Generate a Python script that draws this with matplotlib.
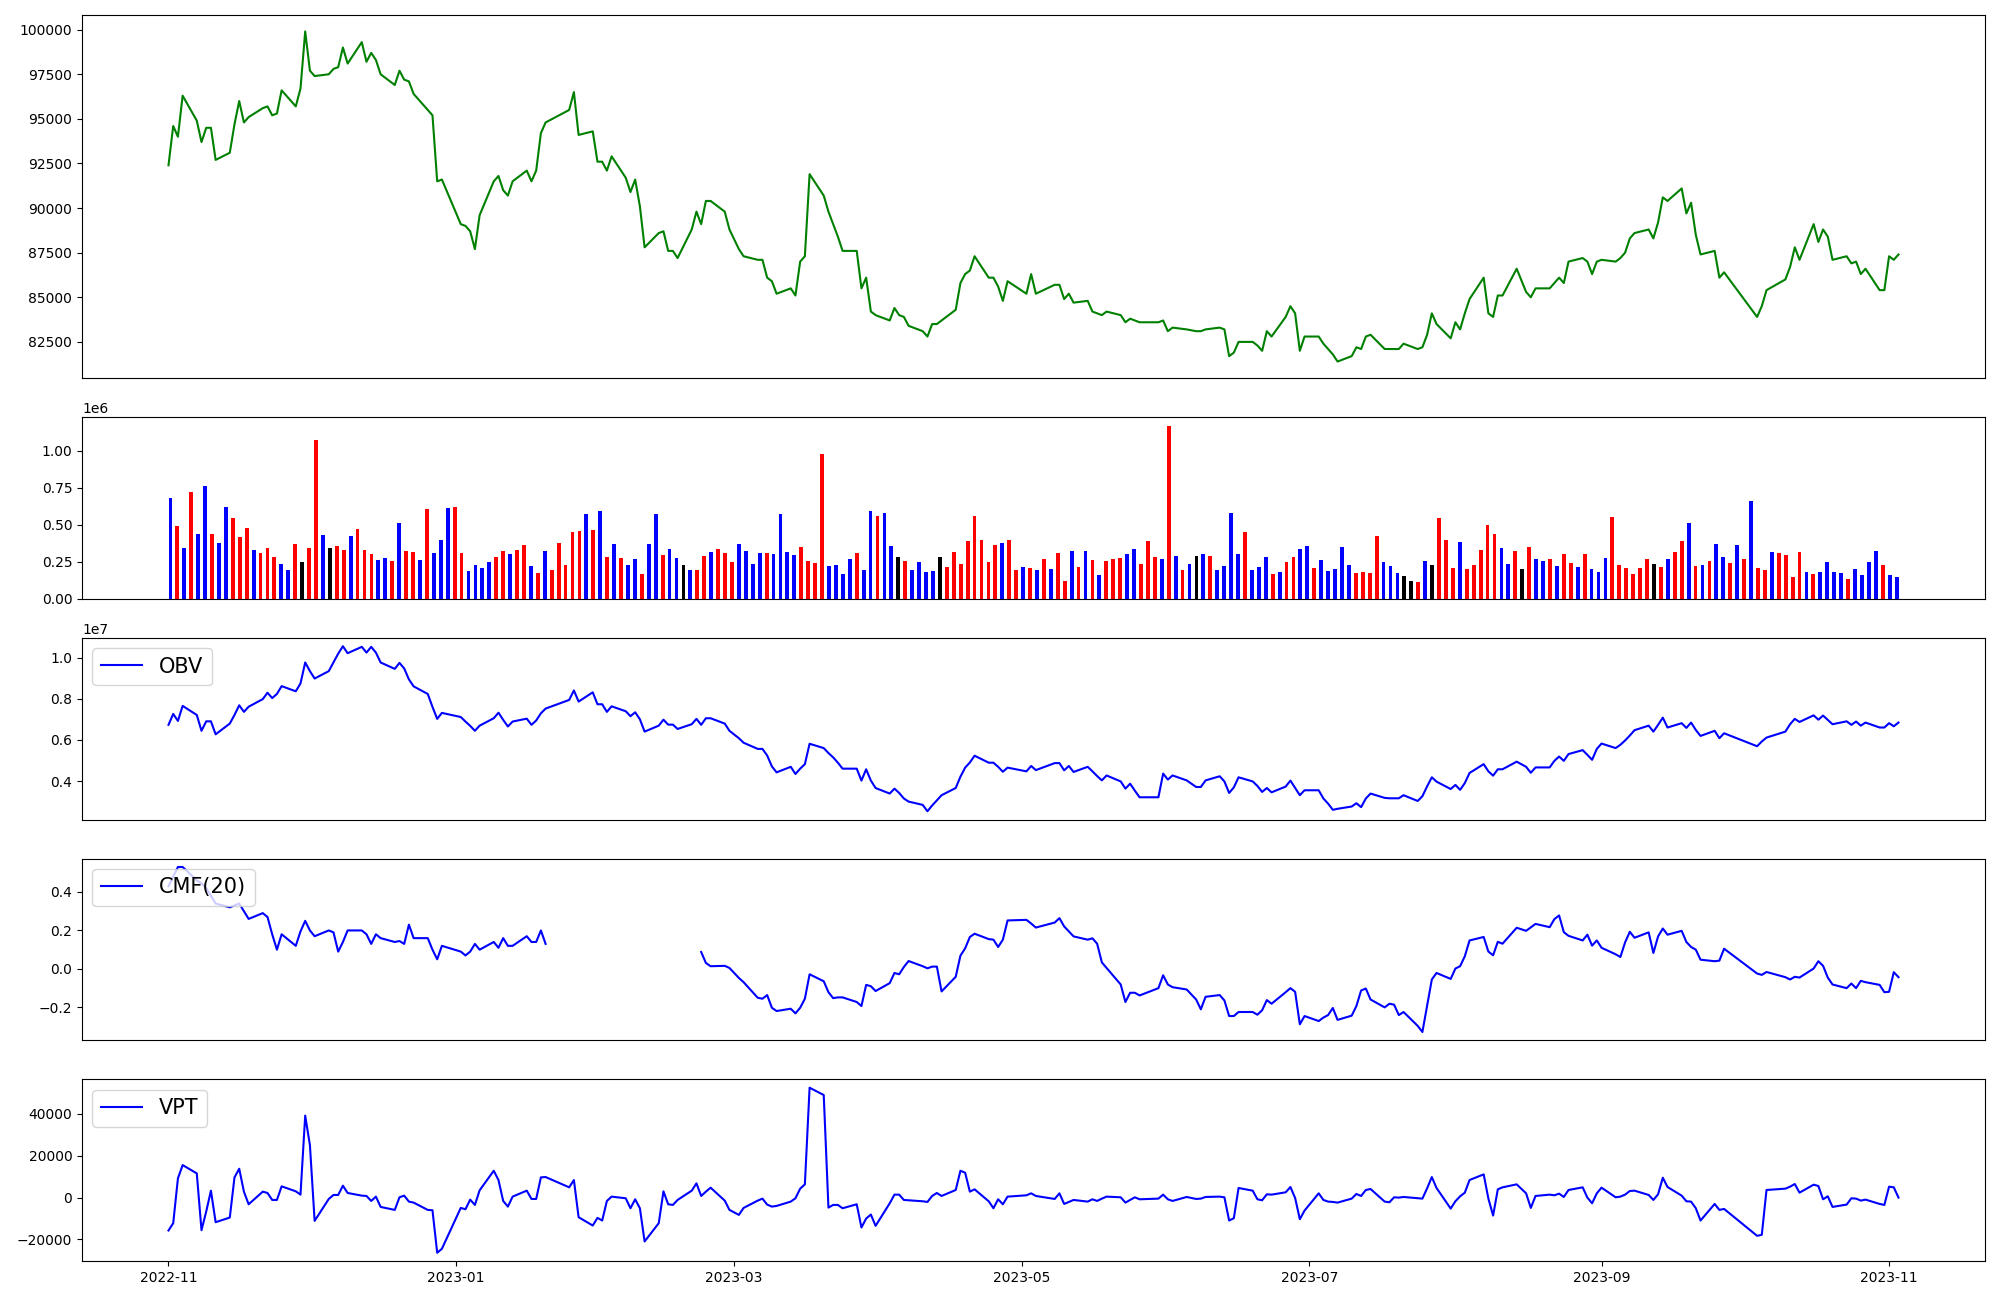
import matplotlib
matplotlib.use("Agg")
import matplotlib.pyplot as plt
import numpy as np
import pandas as pd

# ------------------------------------------------------------------ #
# KRX trading days 2022-11-01 .. 2023-11-03
# ------------------------------------------------------------------ #
HOLIDAYS = ["2022-12-30", "2023-01-23", "2023-01-24", "2023-03-01",
            "2023-05-01", "2023-05-05", "2023-05-29", "2023-06-06",
            "2023-08-15", "2023-09-28", "2023-09-29", "2023-10-02",
            "2023-10-03", "2023-10-09"]

close = [
    # 2022-11
    92400, 94600, 94000, 96300, 94900, 93700, 94500, 94500, 92700, 93100, 94700,
    96000, 94800, 95100, 95600, 95700, 95200, 95300, 96600, 95700, 96700, 99900,
    # 2022-12
    97700, 97400, 97500, 97800, 97900, 99000, 98100, 99300, 98200, 98700, 98300,
    97500, 96900, 97700, 97200, 97100, 96400, 95500, 95200, 91500, 91600,
    # 2023-01
    89100, 89000, 88700, 87700, 89600, 91500, 91800, 91000, 90700, 91500,
    92100, 91500, 92100, 94200, 94800, 95500, 96500, 94100, 94300, 92600,
    # 2023-02
    92600, 92100, 92900, 91700, 90900, 91600, 90100, 87800, 88600, 88700,
    87600, 87600, 87200, 88800, 89800, 89100, 90400, 90400, 89800, 88800,
    # 2023-03
    87700, 87300, 87100, 87100, 86100, 85900, 85200, 85500, 85100, 87000, 87300,
    91900, 90700, 89800, 89100, 88400, 87600, 87600, 85500, 86100, 84200, 84000,
    # 2023-04
    83700, 84400, 84000, 83900, 83400, 83100, 82800, 83500, 83500, 83700,
    84300, 85800, 86300, 86500, 87300, 86100, 86100, 85600, 84800, 85900,
    # 2023-05
    85200, 86300, 85200, 85700, 85700, 84900, 85200, 84700, 84800, 84200,
    84100, 84000, 84200, 84000, 83600, 83800, 83700, 83600, 83600, 83700,
    # 2023-06
    83100, 83300, 83200, 83100, 83100, 83200, 83300, 83200, 81700, 81900, 82500,
    82500, 82300, 82000, 83100, 82800, 83900, 84500, 84100, 82000, 82800,
    # 2023-07
    82800, 82400, 82100, 81800, 81400, 81700, 82200, 82100, 82800, 82900, 82100,
    82100, 82100, 82100, 82400, 82100, 82200, 82900, 84100, 83500, 82700,
    # 2023-08
    83600, 83200, 84100, 84900, 86100, 84100, 83900, 85100, 85100, 86600, 85300,
    85000, 85500, 85500, 85800, 86100, 85800, 87000, 87200, 87000, 86300, 87000,
    # 2023-09
    87100, 87000, 87200, 87500, 88300, 88600, 88800, 88300, 89200, 90600,
    90400, 91100, 89700, 90300, 88500, 87400, 87600, 86100, 86400,
    # 2023-10
    83900, 84500, 85400, 86000, 86700, 87800, 87100, 89100, 88100, 88800,
    88400, 87100, 87300, 86900, 87000, 86300, 86600, 85400, 85400,
    # 2023-11
    87300, 87100, 87400,
]

volume_k = [
    681, 492, 344, 721, 438, 761, 438, 377, 620, 546,
    418, 478, 330, 310, 344, 283, 236, 195, 371, 249,
    344, 1071, 431, 344, 357, 330, 424, 472, 330, 303,
    263, 276, 256, 512, 323, 317, 263, 606, 310, 398,
    613, 620, 310, 189, 229, 209, 249, 283, 323, 303,
    330, 364, 222, 175, 323, 195, 377, 229, 451, 458,
    573, 465, 593, 283, 371, 276, 229, 270, 168, 371,
    573, 296, 337, 276, 229, 195, 195, 290, 317, 337,
    310, 249, 371, 323, 236, 310, 310, 303, 573, 317,
    296, 350, 256, 243, 977, 222, 229, 168, 270, 310,
    195, 593, 559, 579, 357, 283, 256, 195, 249, 182,
    189, 283, 216, 317, 236, 391, 559, 398, 249, 364,
    377, 398, 195, 216, 209, 195, 270, 202, 310, 121,
    323, 216, 323, 263, 162, 256, 270, 276, 303, 337,
    236, 391, 283, 270, 1168, 290, 195, 236, 290, 303,
    290, 195, 222, 579, 303, 451, 195, 216, 283, 168,
    182, 249, 283, 337, 357, 209, 263, 189, 202, 350,
    229, 175, 182, 175, 424, 249, 222, 175, 155, 121,
    115, 256, 229, 546, 398, 209, 384, 202, 229, 330,
    499, 438, 344, 236, 323, 202, 350, 270, 256, 270,
    222, 303, 243, 216, 303, 202, 182, 276, 553, 229,
    209, 168, 209, 270, 236, 216, 270, 317, 391, 512,
    222, 229, 256, 371, 283, 243, 364, 270, 660, 209,
    195, 317, 310, 296, 148, 317, 182, 168, 182, 249,
    182, 175, 135, 202, 162, 249, 323, 229, 162, 148,
]

# b = blue, r = red, k = black (one letter per bar)
bar_codes = ("brbrbbrbbr" "rrbrrrbbrk" "rrbkrrbrrr" "bbrbrrbrbb" "brrbbbbrrb"
             "rrbrbrrrrr" "brbrbrbbrb" "brbbkbrrbr" "rrbbbbrbbb" "brrrrbbbbr"
             "bbrbbkrbbb" "bkrrrrrrrr" "brrbrbrbrr" "brbrbrrrbb" "rrrbrbrbkb"
             "rbbbbrbbbr" "brrbbrbbbb" "brrrrbbbkk" "rbkrrrbrrr" "rrbbrkrbbr"
             "brrbrbbbrr" "rrrrkrbrrb" "rbrbbrbrbr" "rbrrrrbrbb" "bbrbbbbrbb")

obv_m = [
    6.73, 7.26, 6.92, 7.65, 7.21, 6.44, 6.90, 6.90, 6.27, 6.79, 7.21,
    7.68, 7.36, 7.61, 7.98, 8.29, 8.03, 8.23, 8.61, 8.36, 8.74, 9.76,
    9.34, 8.98, 9.34, 9.76, 10.19, 10.55, 10.21, 10.52, 10.24, 10.52, 10.24,
    9.76, 9.45, 9.74, 9.47, 8.94, 8.60, 8.23, 7.60, 7.02, 7.31,
    7.11, 6.89, 6.68, 6.44, 6.69, 7.05, 7.32, 6.97, 6.65, 6.89,
    7.03, 6.73, 6.94, 7.29, 7.52, 7.94, 8.40, 7.86, 8.31, 7.73,
    7.73, 7.36, 7.63, 7.39, 7.15, 7.34, 7.00, 6.40, 6.69, 6.98,
    6.74, 6.74, 6.53, 6.76, 7.02, 6.73, 7.05, 7.05, 6.79, 6.44,
    6.08, 5.86, 5.56, 5.56, 5.24, 4.71, 4.42, 4.69, 4.34, 4.60, 4.82,
    5.81, 5.60, 5.36, 5.15, 4.89, 4.60, 4.60, 4.02, 4.57, 4.02, 3.66,
    3.39, 3.63, 3.42, 3.15, 3.00, 2.84, 2.53, 2.81, 3.06, 3.31,
    3.66, 4.21, 4.65, 4.90, 5.23, 4.89, 4.89, 4.69, 4.45, 4.65,
    4.47, 4.73, 4.53, 4.87, 4.87, 4.52, 4.73, 4.44, 4.69, 4.47,
    4.24, 4.03, 4.27, 3.98, 3.63, 3.87, 3.53, 3.21, 3.21, 4.36,
    4.07, 4.27, 4.03, 3.71, 3.71, 4.03, 4.23, 3.98, 3.42, 3.69, 4.18,
    3.98, 3.76, 3.47, 3.66, 3.45, 3.73, 4.02, 3.66, 3.31, 3.55,
    3.55, 3.15, 2.90, 2.60, 2.65, 2.76, 2.92, 2.73, 3.15, 3.39, 3.18,
    3.16, 3.16, 3.16, 3.31, 3.03, 3.26, 3.74, 4.18, 3.97, 3.61,
    3.81, 3.57, 3.90, 4.39, 4.82, 4.47, 4.26, 4.57, 4.57, 4.94, 4.69,
    4.40, 4.66, 4.66, 4.98, 5.19, 4.98, 5.31, 5.50, 5.27, 5.03, 5.56,
    5.82, 5.60, 5.76, 5.97, 6.21, 6.47, 6.69, 6.40, 6.73, 7.08,
    6.60, 6.81, 6.58, 6.84, 6.48, 6.19, 6.44, 6.08, 6.32,
    5.69, 5.92, 6.11, 6.40, 6.76, 7.02, 6.87, 7.19, 6.98, 7.18,
    6.97, 6.76, 6.90, 6.73, 6.89, 6.69, 6.84, 6.60, 6.60,
    6.81, 6.66, 6.84,
]

nan = np.nan
cmf20 = [
    0.43, 0.48, 0.53, 0.53, 0.46, 0.445, 0.42, 0.38, 0.34, 0.32, 0.33,
    0.34, 0.30, 0.26, 0.29, 0.27, 0.18, 0.10, 0.18, 0.12, 0.195, 0.25,
    0.20, 0.17, 0.20, 0.19, 0.09, 0.14, 0.20, 0.20, 0.18, 0.13, 0.18,
    0.16, 0.14, 0.145, 0.13, 0.23, 0.16, 0.16, 0.10, 0.05, 0.12,
    0.09, 0.07, 0.09, 0.13, 0.10, 0.14, 0.11, 0.16, 0.12, 0.12,
    0.17, 0.14, 0.14, 0.20, 0.13, nan, nan, nan, nan, nan,
    nan, nan, nan, nan, nan, nan, nan, nan, nan, nan,
    nan, nan, nan, nan, nan, 0.088, 0.031, 0.014, 0.016, 0.005,
    -0.047, -0.069, -0.150, -0.155, -0.136, -0.202, -0.219, -0.207, -0.231, -0.202, -0.155,
    -0.028, -0.064, -0.121, -0.152, -0.148, -0.148, -0.172, -0.193, -0.083, -0.090, -0.115,
    -0.074, -0.021, -0.028, 0.010, 0.041, 0.014, 0.003, 0.012, 0.012, -0.117,
    -0.041, 0.069, 0.107, 0.166, 0.183, 0.155, 0.152, 0.114, 0.152, 0.252,
    0.255, 0.236, 0.215, 0.241, 0.264, 0.221, 0.195, 0.169, 0.152, 0.159,
    0.131, 0.034, 0.005, -0.081, -0.172, -0.124, -0.124, -0.138, -0.100, -0.033,
    -0.081, -0.095, -0.107, -0.159, -0.210, -0.145, -0.136, -0.164, -0.245, -0.245, -0.224,
    -0.224, -0.238, -0.215, -0.162, -0.181, -0.121, -0.100, -0.119, -0.288, -0.245,
    -0.271, -0.253, -0.240, -0.203, -0.265, -0.243, -0.193, -0.112, -0.102, -0.159, -0.200,
    -0.181, -0.186, -0.240, -0.224, -0.296, -0.328, -0.193, -0.055, -0.021, -0.052,
    0.002, 0.014, 0.066, 0.148, 0.166, 0.090, 0.071, 0.141, 0.131, 0.214, 0.198,
    0.216, 0.234, 0.217, 0.259, 0.278, 0.191, 0.172, 0.148, 0.178, 0.121, 0.148,
    0.110, 0.076, 0.062, 0.138, 0.193, 0.162, 0.190, 0.083, 0.169, 0.210,
    0.178, 0.198, 0.140, 0.114, 0.100, 0.048, 0.040, 0.043, 0.105,
    -0.024, -0.031, -0.016, -0.043, -0.055, -0.041, -0.045, 0.002, 0.040, 0.016,
    -0.045, -0.081, -0.100, -0.076, -0.100, -0.062, -0.069, -0.083, -0.121,
    -0.119, -0.017, -0.043,
]

vpt = [
    -15711, -12220, 9205, 15553, 11585, -15553, -6665, 3333, -11744, -9522, 9681,
    13807, 2857, -3174, 2857, 2222, -1111, -1111, 5396, 3015, 1428, 39199,
    25075, -11109, -635, 1270, 1270, 5713, 2222, 952, 794, -1587, 476,
    -4444, -5872, 159, 952, -1904, -2380, -5872, -6030, -26346, -24440,
    -4920, -5555, -952, -3491, 3491, 12855, 8411, -1587, -4285, 476,
    3333, -635, -635, 9681, 9839, 4920, 8411, -9363, -13331, -9681,
    -10950, -1587, 476, -317, -5078, -794, -5078, -20948, -12220, 3015,
    -3174, -3491, -1111, 3333, 6824, 794, 2857, 4761, -1428, -5872,
    -8253, -4920, -1428, -476, -3333, -4285, -3967, -1904, -317, 4285, 6348,
    52530, 49038, -4761, -3491, -3491, -5078, -3174, -14283, -9998, -8094, -13490,
    -2698, 1428, 1428, -1111, -1270, -1746, -2063, 794, 2222, 794,
    3650, 12855, 11903, 2857, 3968, -1746, -5078, -794, -3174, 476,
    1111, 2063, 794, -635, 2063, -3015, -2063, -1111, -1904, -794,
    -1587, -476, 476, 159, -2380, -1111, 159, -794, -476, 1428,
    -794, -1587, 317, -635, -476, 317, 476, 159, -10950, -9839, 4602,
    3333, -794, -1270, 1587, 1428, 2539, 5078, -159, -10315, -6189,
    2063, -1111, -1904, -2063, -2380, -476, 1746, 794, 3650, 4126, -1904,
    -2222, 159, 0, 317, -317, -476, 4444, 9839, 4602, -5237,
    -1746, 635, 2380, 8411, 11109, -476, -8570, 3968, 4920, 6348, 2063,
    -4920, 794, 1428, 1111, 1904, 317, 3650, 4920, 0, -2698, 2063,
    4761, 159, 476, 1428, 3174, 3333, 1270, -1111, 1587, 9522,
    5078, 952, -1746, -1904, -5078, -10950, -3015, -5872, -5396,
    -18250, -17774, 3650, 4285, 5237, 6507, 2380, 6189, 5555, -794,
    635, -4444, -3333, -317, -476, -1428, -952, -3015, -3491,
    5237, 4920, 0,
]

COLOR_MAP = {"b": "blue", "r": "red", "k": "black"}

dates = pd.bdate_range("2022-11-01", "2023-11-03")
dates = dates[~dates.isin(pd.to_datetime(HOLIDAYS))]

volume = np.array(volume_k) * 1000
obv = np.array(obv_m) * 1e6
bar_colors = [COLOR_MAP[c] for c in bar_codes]

fig = plt.figure(figsize=(20, 13), dpi=100)
gs = fig.add_gridspec(5, 1, height_ratios=[2, 1, 1, 1, 1],
                      left=0.041, right=0.9925, top=0.9885, bottom=0.030,
                      hspace=0.18)
ax_price = fig.add_subplot(gs[0])
ax_vol = fig.add_subplot(gs[1])
ax_obv = fig.add_subplot(gs[2])
ax_cmf = fig.add_subplot(gs[3])
ax_vpt = fig.add_subplot(gs[4])

# price
ax_price.plot(dates, close, color="green")

# volume bars (by bar index)
ax_vol.bar(np.arange(len(volume)), volume, color=bar_colors, width=0.55)

# indicators
ax_obv.plot(dates, obv, color="blue", label="OBV")
ax_cmf.plot(dates, cmf20, color="blue", label="CMF(20)")
ax_vpt.plot(dates, vpt, color="blue", label="VPT")

for ax in (ax_obv, ax_cmf, ax_vpt):
    ax.legend(loc="upper left", fontsize=15)

for ax in (ax_price, ax_vol, ax_obv, ax_cmf):
    ax.set_xticks([])

fig.savefig("out.png", dpi=100)
